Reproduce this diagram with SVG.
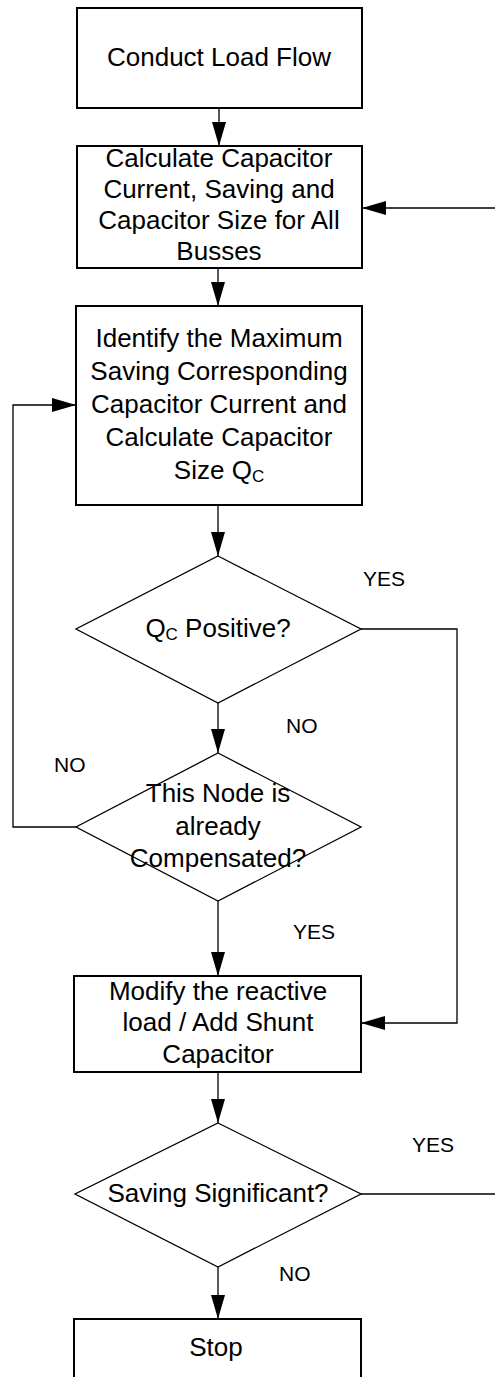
<svg xmlns="http://www.w3.org/2000/svg" width="495" height="1377" viewBox="0 0 495 1377">
<style>
.box{fill:#fff;stroke:#000;stroke-width:2}
.dia{fill:#fff;stroke:#000;stroke-width:1.3}
.t{font-family:"Liberation Sans",Arial,sans-serif;font-size:26px;fill:#000;text-anchor:middle}
.sub{font-size:17px}
.lbl{font-family:"Liberation Sans",Arial,sans-serif;font-size:21px;fill:#000}
.c{fill:none;stroke:#000;stroke-width:1.3}
</style>
<defs>
<marker id="ah" viewBox="0 0 24 14" refX="24" refY="7" markerWidth="24" markerHeight="14" markerUnits="userSpaceOnUse" orient="auto">
<path d="M0,0 L24,7 L0,14 z" fill="#000"/>
</marker>
</defs>
<rect width="495" height="1377" fill="#fff"/>
<g id="connectors">
<path class="c" d="M219,108 V146" marker-end="url(#ah)"/>
<path class="c" d="M495,208 H362" marker-end="url(#ah)"/>
<path class="c" d="M218,268 V306" marker-end="url(#ah)"/>
<path class="c" d="M218,505 V556" marker-end="url(#ah)"/>
<path class="c" d="M218,703 V753" marker-end="url(#ah)"/>
<path class="c" d="M361,629 H457 V1023 H361" marker-end="url(#ah)"/>
<path class="c" d="M76,827 H13 V405 H76" marker-end="url(#ah)"/>
<path class="c" d="M218,901 V976" marker-end="url(#ah)"/>
<path class="c" d="M218,1072 V1123" marker-end="url(#ah)"/>
<path class="c" d="M361,1194 H495"/>
<path class="c" d="M218,1267 V1319" marker-end="url(#ah)"/>
<text class="lbl" x="363" y="586">YES</text>
<text class="lbl" x="286" y="733">NO</text>
<text class="lbl" x="54" y="772">NO</text>
<text class="lbl" x="293" y="939">YES</text>
<text class="lbl" x="412" y="1152">YES</text>
<text class="lbl" x="279" y="1281">NO</text>
</g>
<g id="n1">
<rect class="box" x="77" y="8" width="285" height="100"/>
<text class="t" x="219" y="66">Conduct Load Flow</text>
</g>
<g id="n2">
<rect class="box" x="77" y="146" width="285" height="122"/>
<text class="t" x="219" y="167">Calculate Capacitor</text>
<text class="t" x="219" y="198">Current, Saving and</text>
<text class="t" x="219" y="229">Capacitor Size for All</text>
<text class="t" x="219" y="260">Busses</text>
</g>
<g id="n3">
<rect class="box" x="76" y="306" width="286" height="199"/>
<text class="t" x="219" y="347">Identify the Maximum</text>
<text class="t" x="219" y="380">Saving Corresponding</text>
<text class="t" x="219" y="413">Capacitor Current and</text>
<text class="t" x="219" y="446">Calculate Capacitor</text>
<text class="t" x="219" y="479">Size Q<tspan class="sub" dy="3">C</tspan></text>
</g>
<g id="n4">
<polygon class="dia" points="218,556 361,629 218,703 76,629"/>
<text class="t" x="218" y="637">Q<tspan class="sub" dy="3">C</tspan><tspan dy="-3"> Positive?</tspan></text>
</g>
<g id="n5">
<polygon class="dia" points="218,753 361,827 218,901 76,827"/>
<text class="t" x="218" y="802">This Node is</text>
<text class="t" x="218" y="835">already</text>
<text class="t" x="218" y="867">Compensated?</text>
</g>
<g id="n6">
<rect class="box" x="74" y="976" width="287" height="96"/>
<text class="t" x="218" y="1000">Modify the reactive</text>
<text class="t" x="218" y="1031">load / Add Shunt</text>
<text class="t" x="218" y="1063">Capacitor</text>
</g>
<g id="n7">
<polygon class="dia" points="218,1123 361,1194 218,1267 75,1194"/>
<text class="t" x="218" y="1202">Saving Significant?</text>
</g>
<g id="n8">
<rect class="box" x="74" y="1319" width="287" height="80"/>
<text class="t" x="216" y="1356">Stop</text>
</g>
</svg>
